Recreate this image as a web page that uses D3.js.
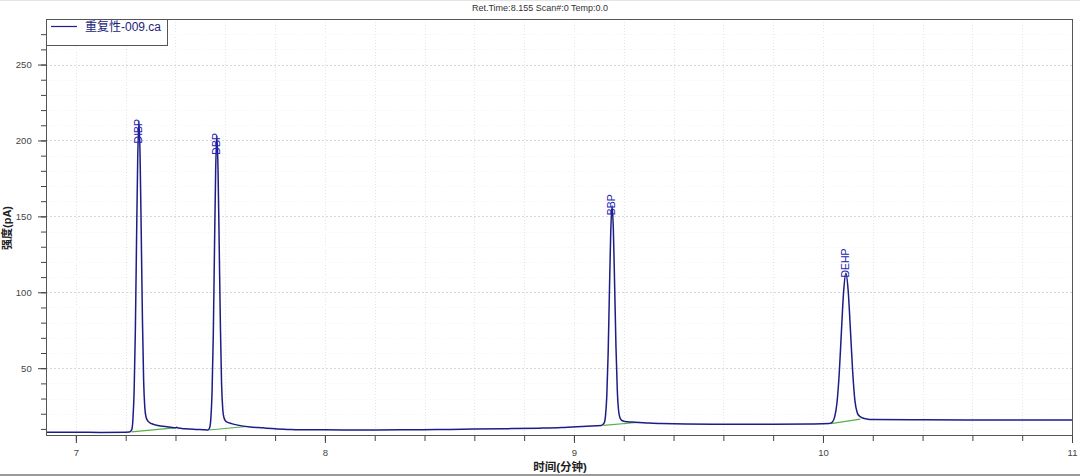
<!DOCTYPE html>
<html>
<head>
<meta charset="utf-8">
<script src="https://cdn.jsdelivr.net/npm/d3@7"></script>
<style>
  html, body { margin: 0; padding: 0; background: #ffffff; }
  svg { display: block; }
  text { font-family: "Liberation Sans", Arial, "Noto Sans CJK SC", sans-serif; }
</style>
</head>
<body>
<svg id="chart" width="1080" height="476"></svg>
<script>
// ---------- data ----------
const titleText = "Ret.Time:8.155 Scan#:0 Temp:0.0";
const seriesName = "重复性-009.ca";
const xTitle = "时间(分钟)";
const yTitle = "强度(pA)";

const xMajorTicks = [7, 8, 9, 10, 11];
const yMajorTicks = [50, 100, 150, 200, 250];

// chromatogram trace (time in min, signal in pA)
const traceT = [6.88, 7.00, 7.10, 7.20, 7.215,
  7.2245, 7.2293, 7.234, 7.2388, 7.2435, 7.2483, 7.253, 7.2578, 7.2625, 7.2673, 7.272, 7.2768, 7.2815,
  7.288, 7.296, 7.305, 7.32, 7.35, 7.38, 7.40, 7.405, 7.41, 7.44, 7.48, 7.52, 7.53,
  7.5375, 7.5423, 7.547, 7.5518, 7.5565, 7.5613, 7.566, 7.5708, 7.5755, 7.5803, 7.585, 7.5898, 7.5945,
  7.601, 7.61, 7.625, 7.65, 7.70, 7.75, 7.80, 7.85, 7.90,
  8.00, 8.15, 8.30, 8.45, 8.60, 8.75, 8.86, 8.95, 9.05, 9.11,
  9.1215, 9.1268, 9.132, 9.1373, 9.1425, 9.1478, 9.153, 9.1583, 9.1635, 9.1688, 9.174, 9.1793, 9.1845,
  9.191, 9.20, 9.215, 9.235, 9.26, 9.30, 9.35, 9.45, 9.60, 9.80, 9.95, 10.025,
  10.038, 10.047, 10.056, 10.065, 10.074, 10.083, 10.092, 10.101, 10.11, 10.119, 10.128, 10.137, 10.146,
  10.16, 10.175, 10.20, 10.40, 10.60, 10.80, 11.004];
const traceV = [7.8, 7.8, 7.7, 7.8, 7.9,
  9.5, 17, 35.7, 74.6, 133, 188, 213, 190, 138, 82, 42, 24, 18,
  15.5, 14.2, 13.4, 12.6, 11.8, 11.1, 10.7, 11.1, 10.6, 10.1, 9.7, 9.4, 9.3,
  11, 17.8, 35.5, 72.4, 127.6, 180, 203.3, 181, 131, 78, 40, 23, 17.5,
  15.2, 14.3, 13.5, 12.5, 11.3, 10.7, 10.1, 9.7, 9.4,
  9.4, 9.3, 9.4, 9.6, 9.9, 10.2, 10.5, 10.9, 11.8, 12.3,
  14.0, 18.8, 32, 59.5, 100.6, 139.7, 157, 141, 104, 64, 36, 22, 17.5,
  15.8, 15.1, 14.7, 14.5, 14.3, 13.9, 13.6, 13.2, 13.0, 13.0, 13.2, 13.5,
  14.6, 17.9, 26.9, 45.7, 73.9, 100.6, 112.6, 101.5, 76, 48.5, 29, 21, 18.5,
  17.2, 16.6, 16.2, 16.0, 15.9, 15.9, 15.9];

// identified peaks
const peakNames = ["DIBP", "DBP", "BBP", "DEHP"];
const peakTimes = [7.253, 7.566, 9.153, 10.092];
const peakHeights = [213, 203.3, 157, 112.6];

// integration baselines (green)
const baseStartT = [7.224, 7.535, 9.118, 10.032];
const baseStartV = [8.0, 9.3, 12.3, 13.5];
const baseEndT = [7.405, 7.685, 9.265, 10.15];
const baseEndV = [10.8, 11.6, 14.4, 16.4];

// ---------- drawing ----------
const svg = d3.select("#chart");
const W = 1080, H = 476;
const L = 46, R = 1073, T = 19, B = 435;

const x = d3.scaleLinear().domain([6.88, 11.004]).range([L, R]);
const y = d3.scaleLinear().domain([6, 280]).range([B, T]);

// outer frame lines (screenshot edges)
svg.append("rect").attr("x", 0).attr("y", 0).attr("width", W).attr("height", 1).attr("fill", "#e4e4e4");
svg.append("rect").attr("x", 0).attr("y", H - 2).attr("width", W).attr("height", 2).attr("fill", "#9a9a9a");

// title
svg.append("text").attr("x", 540).attr("y", 11).attr("text-anchor", "middle")
  .attr("font-size", 9).attr("fill", "#333").text(titleText);

// grid
const xMinor = d3.range(35, 56).map(i => +(i * 0.2).toFixed(1)).filter(v => v >= 6.88 && v <= 11.004);
const yMinor = d3.range(1, 28).map(i => i * 10);
const grid = svg.append("g");
grid.selectAll("line.vx").data(xMinor).join("line")
  .attr("x1", d => Math.round(x(d)) + 0.5).attr("x2", d => Math.round(x(d)) + 0.5).attr("y1", T).attr("y2", B)
  .attr("stroke", "#e4e4e4").attr("stroke-width", 1).attr("stroke-dasharray", "1,2");
grid.selectAll("line.hy").data(yMinor.filter(v => v % 50 !== 0)).join("line")
  .attr("x1", L).attr("x2", R).attr("y1", d => Math.round(y(d)) + 0.5).attr("y2", d => Math.round(y(d)) + 0.5)
  .attr("stroke", "#f3f3f3").attr("stroke-width", 1).attr("stroke-dasharray", "1,2");
grid.selectAll("line.hm").data(yMajorTicks).join("line")
  .attr("x1", L).attr("x2", R).attr("y1", d => Math.round(y(d)) + 0.5).attr("y2", d => Math.round(y(d)) + 0.5)
  .attr("stroke", "#d8d8d8").attr("stroke-width", 1).attr("stroke-dasharray", "2,2");

// axes
const xAxisMinor = d3.axisBottom(x).tickValues(xMinor).tickSize(6).tickFormat("");
const xAxisMajor = d3.axisBottom(x).tickValues(xMajorTicks).tickSize(8).tickFormat(d3.format("d"));
const yAxisMinor = d3.axisLeft(y).tickValues(yMinor).tickSize(5).tickFormat("");
const yAxisMajor = d3.axisLeft(y).tickValues(yMajorTicks).tickSize(8).tickFormat(d3.format("d"));

function styleAxis(g) {
  g.select(".domain").remove();
  g.selectAll(".tick line").attr("stroke", "#444");
  g.selectAll(".tick text").attr("fill", "#444").attr("font-size", 9.5)
    .attr("font-family", "'Liberation Sans', Arial, sans-serif");
}
svg.append("g").attr("transform", `translate(0,${B})`).call(xAxisMinor).call(styleAxis);
svg.append("g").attr("transform", `translate(0,${B})`).call(xAxisMajor).call(styleAxis)
  .selectAll(".tick text").attr("dy", "1.1em");
svg.append("g").attr("transform", `translate(${L},0)`).call(yAxisMinor).call(styleAxis);
svg.append("g").attr("transform", `translate(${L},0)`).call(yAxisMajor).call(styleAxis)
  .selectAll(".tick text").attr("dx", "-0.35em");

// plot border
svg.append("rect").attr("x", L + 0.5).attr("y", T + 0.5).attr("width", R - L - 1).attr("height", B - T)
  .attr("fill", "none").attr("stroke", "#555").attr("stroke-width", 1);

// clip
svg.append("clipPath").attr("id", "clip").append("rect")
  .attr("x", L + 1).attr("y", T + 1).attr("width", R - L - 2).attr("height", B - T - 1);

const plot = svg.append("g").attr("clip-path", "url(#clip)");

// integration baselines
plot.selectAll("line.base").data(peakNames).join("line")
  .attr("x1", (d, i) => x(baseStartT[i])).attr("y1", (d, i) => y(baseStartV[i]))
  .attr("x2", (d, i) => x(baseEndT[i])).attr("y2", (d, i) => y(baseEndV[i]))
  .attr("stroke", "#55b04a").attr("stroke-width", 1.2);

// trace
const pts = traceT.map((t, i) => [t, traceV[i]]);
const line = d3.line().x(d => x(d[0])).y(d => y(d[1])).curve(d3.curveMonotoneX);
plot.append("path").datum(pts).attr("d", line)
  .attr("fill", "none").attr("stroke", "#1d1d86").attr("stroke-width", 1.5).attr("stroke-linejoin", "round");

// peak labels (vertical, reading upward)
svg.selectAll("text.peak").data(peakNames).join("text")
  .attr("class", "peak")
  .attr("transform", (d, i) => `translate(${x(peakTimes[i]) - 1},${y(0.865 * peakHeights[i] + 21.9)}) rotate(-90)`)
  .attr("text-anchor", "middle").attr("dominant-baseline", "central")
  .attr("font-size", 10.5).attr("fill", "#2424b4").text(d => d);

// legend
const lg = svg.append("g");
lg.append("rect").attr("x", L + 0.5).attr("y", T + 0.5).attr("width", 121).attr("height", 26)
  .attr("fill", "#fff").attr("stroke", "#555").attr("stroke-width", 1);
lg.append("line").attr("x1", 51).attr("x2", 77).attr("y1", 26.5).attr("y2", 26.5)
  .attr("stroke", "#1d1d86").attr("stroke-width", 1.2);
lg.append("text").attr("x", 85).attr("y", 31).attr("font-size", 12).attr("fill", "#23237a")
  .text(seriesName);

// axis titles
svg.append("text").attr("transform", `translate(11,228) rotate(-90)`).attr("text-anchor", "middle")
  .attr("font-size", 11).attr("font-weight", "bold").attr("fill", "#222").text(yTitle);
svg.append("text").attr("x", 560).attr("y", 471).attr("text-anchor", "middle")
  .attr("font-size", 11.5).attr("font-weight", "bold").attr("fill", "#222").text(xTitle);
</script>
</body>
</html>
